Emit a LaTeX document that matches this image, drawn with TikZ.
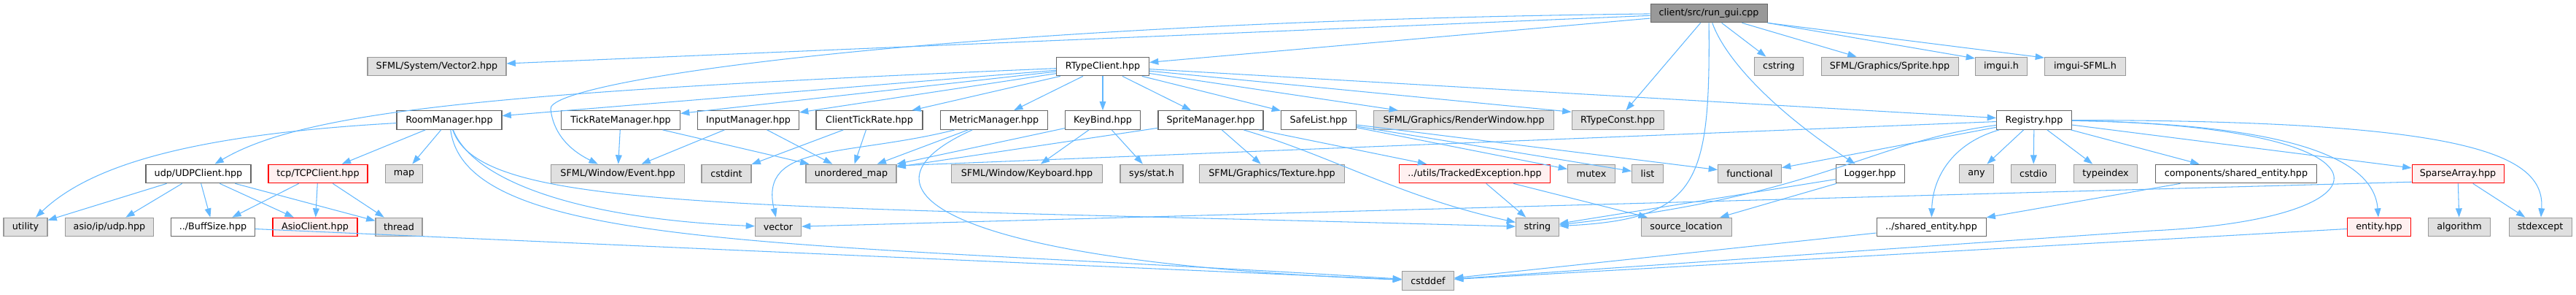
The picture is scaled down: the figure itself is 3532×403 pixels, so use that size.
\documentclass[tikz,border=0pt]{standalone}
\usepackage{fontspec}
\setmainfont{DejaVu Sans}
\usetikzlibrary{arrows.meta}

\definecolor{edgeblue}{HTML}{63B8FF}
\definecolor{extfill}{HTML}{E0E0E0}
\definecolor{extline}{HTML}{999999}
\definecolor{docline}{HTML}{666666}
\definecolor{cutfill}{HTML}{FFF0F0}

\begin{document}
\begin{tikzpicture}[x=0.02cm, y=-0.02cm,
  file/.style={draw, rectangle, line width=0.6pt, minimum height=0.514cm,
    inner xsep=1pt, inner ysep=0pt, font=\fontsize{7.25}{8.5}\selectfont},
  docfile/.style={file, draw=docline, fill=white},
  extfile/.style={file, draw=extline, fill=extfill},
  cutfile/.style={file, draw=red, fill=cutfill},
  rootfile/.style={file, draw=docline, fill=extline},
  bw/.style={minimum width=#1*0.02cm},
  dep/.style={draw=edgeblue, line width=0.6pt, -{Triangle[length=7pt, width=5pt]}}]
  \useasboundingbox (0,0) rectangle (3532,403);

  % Root file
  \node[rootfile, bw=160] (run) at (2343,18) {client/src/run\_gui.cpp};

  % Row 1
  \node[extfile, bw=190] (vec2) at (599,91) {SFML/System/Vector2.hpp};
  \node[docfile, bw=127] (rtc) at (1512,91) {RTypeClient.hpp};
  \node[extfile, bw=67] (cstring) at (2439,91) {cstring};
  \node[extfile, bw=188] (sprite) at (2591,91) {SFML/Graphics/Sprite.hpp};
  \node[extfile, bw=71] (imgui) at (2744,91) {imgui.h};
  \node[extfile, bw=111] (imguisfml) at (2859,91) {imgui-SFML.h};

  % Row 2
  \node[docfile, bw=144] (room) at (616,164.5) {RoomManager.hpp};
  \node[docfile, bw=163] (tick) at (851,164.5) {TickRateManager.hpp};
  \node[docfile, bw=139] (input) at (1026,164.5) {InputManager.hpp};
  \node[docfile, bw=146] (ctick) at (1192,164.5) {ClientTickRate.hpp};
  \node[docfile, bw=147] (metric) at (1363,164.5) {MetricManager.hpp};
  \node[docfile, bw=103] (keybind) at (1512,164.5) {KeyBind.hpp};
  \node[docfile, bw=144] (spritemgr) at (1660,164.5) {SpriteManager.hpp};
  \node[docfile, bw=103] (safelist) at (1808,164.5) {SafeList.hpp};
  \node[extfile, bw=247] (render) at (2007,164.5) {SFML/Graphics/RenderWindow.hpp};
  \node[extfile, bw=126] (rconst) at (2218,164.5) {RTypeConst.hpp};
  \node[docfile, bw=103] (registry) at (2789,164.5) {Registry.hpp};

  % Row 3
  \node[docfile, bw=144] (udp) at (272,238) {udp/UDPClient.hpp};
  \node[cutfile, bw=136] (tcp) at (436,238) {tcp/TCPClient.hpp};
  \node[extfile, bw=51] (map) at (554,238) {map};
  \node[extfile, bw=183] (event) at (847,238) {SFML/Window/Event.hpp};
  \node[extfile, bw=68] (cstdint) at (996,238) {cstdint};
  \node[extfile, bw=124] (umap) at (1167,238) {unordered\_map};
  \node[extfile, bw=207] (keyboard) at (1408,238) {SFML/Window/Keyboard.hpp};
  \node[extfile, bw=86] (stat) at (1579,238) {sys/stat.h};
  \node[extfile, bw=199] (texture) at (1744,238) {SFML/Graphics/Texture.hpp};
  \node[cutfile, bw=207] (tracked) at (2022,238) {../utils/TrackedException.hpp};
  \node[extfile, bw=65] (mutex) at (2182,238) {mutex};
  \node[extfile, bw=43] (list) at (2259,238) {list};
  \node[extfile, bw=87] (functional) at (2399,238) {functional};
  \node[docfile, bw=94] (logger) at (2564,238) {Logger.hpp};
  \node[extfile, bw=47] (any) at (2710,238) {any};
  \node[extfile, bw=61] (cstdio) at (2788,238) {cstdio};
  \node[extfile, bw=87] (typeindex) at (2887,238) {typeindex};
  \node[docfile, bw=221] (compshared) at (3066,238) {components/shared\_entity.hpp};
  \node[cutfile, bw=126] (sparse) at (3370,238) {SparseArray.hpp};

  % Row 4
  \node[extfile, bw=60] (utility) at (35,311) {utility};
  \node[extfile, bw=121] (asioudp) at (150,311) {asio/ip/udp.hpp};
  \node[docfile, bw=115] (buffsize) at (292,311) {../BuffSize.hpp};
  \node[cutfile, bw=116] (asioclient) at (432,311) {AsioClient.hpp};
  \node[extfile, bw=64] (thread) at (547,311) {thread};
  \node[extfile, bw=63] (vector) at (1067,311) {vector};
  \node[extfile, bw=59] (string) at (2108,311) {string};
  \node[extfile, bw=124] (srcloc) at (2312,311) {source\_location};
  \node[docfile, bw=150] (sharedent) at (2648,311) {../shared\_entity.hpp};
  \node[cutfile, bw=87] (entity) at (3262,311) {entity.hpp};
  \node[extfile, bw=85] (algorithm) at (3372,311) {algorithm};
  \node[extfile, bw=86] (stdexcept) at (3483,311) {stdexcept};

  % Row 5
  \node[extfile, bw=71] (cstddef) at (1958,384.5) {cstddef};

  % run_gui.cpp includes
  \draw[dep] (run) -- (vec2);
  \draw[dep] (run) .. controls (1300,30) and (745,110) .. (755,150)
    .. controls (760,190) and (790,210) .. (event);
  \draw[dep] (run) -- (rtc);
  \draw[dep] (run) -- (rconst);
  \draw[dep] (run) .. controls (2345,250) and (2330,300) .. (string);
  \draw[dep] (run) .. controls (2365,80) and (2430,150) .. (logger);
  \draw[dep] (run) -- (cstring);
  \draw[dep] (run) -- (sprite);
  \draw[dep] (run.south east) -- (imgui.163);
  \draw[dep] (run.south east) -- (imguisfml.168);

  % RTypeClient.hpp includes
  \draw[dep] (rtc) .. controls (700,125) and (420,150) .. (udp);
  \draw[dep] (rtc) -- (room);
  \draw[dep] (rtc) -- (tick);
  \draw[dep] (rtc) -- (input);
  \draw[dep] (rtc) -- (ctick);
  \draw[dep] (rtc) -- (metric);
  \draw[dep] (rtc) -- (keybind);
  \draw[dep] (rtc) -- (spritemgr);
  \draw[dep] (rtc) -- (safelist);
  \draw[dep] (rtc) -- (render);
  \draw[dep] (rtc) -- (rconst.170);
  \draw[dep] (rtc) -- (registry);

  % RoomManager.hpp includes
  \draw[dep] (room) .. controls (250,185) and (120,230) .. (utility);
  \draw[dep] (room) -- (tcp);
  \draw[dep] (room) -- (map);
  \draw[dep] (room) .. controls (650,250) and (800,300) .. (vector);
  \draw[dep] (room) .. controls (660,290) and (1000,280) .. (string);
  \draw[dep] (room) .. controls (640,345) and (1100,330) .. (cstddef);

  % network clients
  \draw[dep] (udp) -- (utility);
  \draw[dep] (udp) -- (asioudp);
  \draw[dep] (udp) -- (buffsize);
  \draw[dep] (udp) -- (asioclient);
  \draw[dep] (udp) -- (thread);
  \draw[dep] (tcp) -- (buffsize);
  \draw[dep] (tcp) -- (asioclient);
  \draw[dep] (tcp) -- (thread);
  \draw[dep] (buffsize) -- (cstddef);

  % managers
  \draw[dep] (tick) -- (event);
  \draw[dep] (tick) -- (umap);
  \draw[dep] (input) -- (event);
  \draw[dep] (input) -- (umap);
  \draw[dep] (ctick) -- (cstdint);
  \draw[dep] (ctick) -- (umap);
  \draw[dep] (metric) -- (umap);
  \draw[dep] (metric) .. controls (1160,215) and (1040,195) .. (vector);
  \draw[dep] (metric) .. controls (1150,260) and (1300,360) .. (cstddef);
  \draw[dep] (keybind) -- (umap);
  \draw[dep] (keybind) -- (keyboard);
  \draw[dep] (keybind) -- (stat);
  \draw[dep] (spritemgr) -- (umap);
  \draw[dep] (spritemgr) -- (texture);
  \draw[dep] (spritemgr) -- (tracked);
  \draw[dep] (spritemgr) .. controls (1830,215) and (1920,270) .. (string);
  \draw[dep] (safelist) -- (mutex);
  \draw[dep] (safelist) -- (list);
  \draw[dep] (safelist) -- (functional);

  % exceptions and logging
  \draw[dep] (tracked) -- (string);
  \draw[dep] (tracked) -- (srcloc);
  \draw[dep] (logger) -- (string);
  \draw[dep] (logger) -- (srcloc);

  % Registry.hpp includes
  \draw[dep] (registry) -- (umap.10);
  \draw[dep] (registry) -- (functional);
  \draw[dep] (registry) .. controls (2560,195) and (2500,268) .. (string);
  \draw[dep] (registry) -- (any);
  \draw[dep] (registry) -- (cstdio);
  \draw[dep] (registry) -- (typeindex);
  \draw[dep] (registry) -- (compshared);
  \draw[dep] (registry) -- (sparse);
  \draw[dep] (registry) .. controls (3150,170) and (3255,220) .. (entity);
  \draw[dep] (registry) .. controls (3380,165) and (3490,210) .. (stdexcept);
  \draw[dep] (registry) .. controls (2680,195) and (2650,240) .. (sharedent);
  \draw[dep] (registry) .. controls (3300,172) and (3300,300) .. (2950,316) -- (cstddef);

  % ECS headers
  \draw[dep] (compshared) -- (sharedent);
  \draw[dep] (sparse.190) -- (vector);
  \draw[dep] (sparse) -- (algorithm);
  \draw[dep] (sparse) -- (stdexcept);
  \draw[dep] (sharedent) -- (cstddef);
  \draw[dep] (entity) -- (cstddef);
\end{tikzpicture}
\end{document}
